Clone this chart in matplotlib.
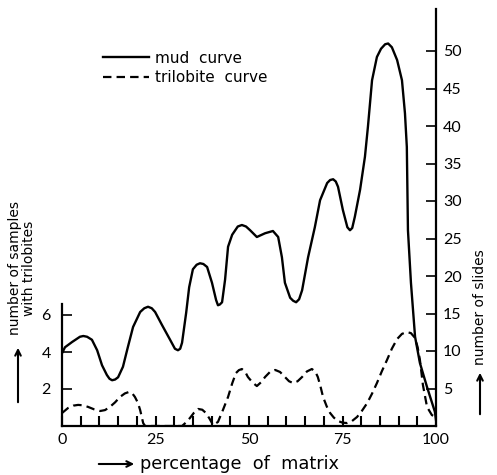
import numpy as np
import matplotlib
matplotlib.use("Agg")
from matplotlib import pyplot as plt

# mud curve (number of slides, right axis)
mud_x = [0, 0.8, 2.7, 4.8, 5.7, 6.7, 8.0, 9.4, 10.7, 12.0, 12.7, 13.4, 14.2, 15.0,
         16.3, 17.6, 19.0, 20.9, 22.0, 23.0, 24.0, 24.9, 26.7, 28.9, 30.2, 31.0,
         31.6, 32.1, 33.2, 34.0, 35.0, 36.0, 36.9, 37.8, 38.8, 40.1, 41.2, 41.7,
         42.2, 42.8, 43.6, 44.4, 45.5, 47.0, 48.1, 49.2, 50.3, 52.1, 54.3, 56.4,
         57.8, 58.8, 59.6, 61.0, 61.8, 62.6, 63.4, 64.2, 65.8, 67.6, 69.0, 70.9,
         71.7, 72.5, 73.2, 73.8, 75.1, 76.3, 77.0, 77.6, 78.3, 79.7, 81.0, 81.8,
         82.9, 84.2, 85.3, 86.4, 87.2, 88.2, 89.6, 90.9, 91.7, 92.2, 92.5, 93.3,
         94.4, 95.7, 97.6, 99.7, 100.0]
mud_y = [9.7, 10.5, 11.2, 11.9, 12.0, 11.9, 11.5, 10.1, 8.1, 6.8, 6.3, 6.1, 6.2, 6.5,
         7.9, 10.5, 13.2, 15.2, 15.7, 15.9, 15.7, 15.2, 13.5, 11.5, 10.3, 10.1,
         10.3, 11.1, 15.1, 18.5, 20.9, 21.5, 21.7, 21.6, 21.2, 19.1, 16.8, 16.1,
         16.2, 16.5, 19.5, 23.9, 25.5, 26.6, 26.8, 26.6, 26.1, 25.2, 25.7, 26.0,
         25.2, 22.5, 19.1, 17.1, 16.7, 16.5, 16.9, 18.1, 22.5, 26.5, 30.1, 32.4,
         32.8, 32.9, 32.6, 31.9, 28.8, 26.5, 26.1, 26.4, 27.9, 31.5, 35.9, 39.9,
         46.1, 49.2, 50.3, 50.9, 51.0, 50.5, 48.8, 46.1, 41.7, 37.2, 26.1, 19.1,
         11.9, 8.4, 5.2, 1.9, 0.8]

# trilobite curve (number of samples with trilobites, left axis)
tri_x = [0, 1.6, 3.0, 4.3, 5.6, 7.0, 8.6, 10.2, 11.5, 12.8, 14.2, 15.5, 16.8, 17.9,
         18.8, 19.5, 20.3, 20.9, 21.7, 22.2, 32.1, 33.2, 34.2, 35.3, 36.4, 37.5,
         38.5, 39.5, 40.4, 41.7, 43.0, 44.4, 45.5, 46.5, 47.3, 48.1, 49.0, 49.7,
         51.0, 52.1, 53.2, 54.3, 55.6, 57.0, 58.3, 59.6, 60.7, 61.8, 63.0, 64.2,
         65.5, 66.8, 67.7, 68.4, 69.1, 69.8, 70.8, 71.7, 72.7, 73.8, 75.0, 76.2,
         77.5, 78.9, 80.2, 81.6, 82.9, 84.2, 85.5, 86.9, 88.2, 89.6, 90.9, 92.2,
         93.3, 94.4, 95.1, 95.7, 96.5, 97.6, 98.9, 100.0]
tri_y = [0.70, 0.97, 1.10, 1.14, 1.12, 1.03, 0.90, 0.81, 0.86, 1.03, 1.28, 1.57,
         1.76, 1.84, 1.76, 1.57, 1.25, 0.86, 0.16, 0.0, 0.0, 0.20, 0.43, 0.72,
         0.92, 0.88, 0.70, 0.38, 0.05, 0.22, 0.85, 1.57, 2.30, 2.86, 3.02, 3.08,
         2.92, 2.65, 2.34, 2.16, 2.36, 2.65, 2.92, 3.03, 2.92, 2.65, 2.42, 2.32,
         2.42, 2.65, 2.95, 3.08, 2.95, 2.65, 2.15, 1.57, 1.05, 0.70, 0.45, 0.27,
         0.18, 0.16, 0.26, 0.49, 0.82, 1.24, 1.75, 2.32, 2.95, 3.57, 4.18, 4.70,
         4.98, 5.08, 5.02, 4.76, 4.25, 3.57, 2.22, 1.03, 0.59, 0.49]

x_ticks = [0, 25, 50, 75, 100]
left_ticks = [2, 4, 6]
right_ticks = [5, 10, 15, 20, 25, 30, 35, 40, 45, 50]

plt.rcParams['font.family'] = ['Lato', 'DejaVu Sans']
fig = plt.figure(figsize=(4.97, 4.75), dpi=100)
ax = fig.add_axes([62 / 497, 49 / 475, 374 / 497, 417 / 475])
ax2 = ax.twinx()

ax.set_xlim(0, 100)
ax.set_ylim(0, 417 / 18.5)
ax2.set_ylim(0, 417 / 7.5)

ax2.plot(mud_x, mud_y, color='black', lw=1.7, solid_joinstyle='round', label='mud  curve')
ax.plot(tri_x, tri_y, color='black', lw=1.6, ls=(0, (3.8, 2.3)), label='trilobite  curve')

for a in (ax, ax2):
    a.spines['top'].set_visible(False)
    for s in a.spines.values():
        s.set_linewidth(1.6)
ax.spines['right'].set_visible(False)
ax2.spines['left'].set_visible(False)
ax2.spines['bottom'].set_visible(False)
ax.spines['left'].set_bounds(0, 6.6)

ax.set_xticks(x_ticks)
ax.set_xticks(np.arange(0, 101, 5), minor=True)
ax.set_yticks(left_ticks)
ax2.set_yticks(right_ticks)
ax.tick_params(axis='x', which='both', direction='in', length=7, width=1.5,
               labelsize=11.5, pad=5)
ax.tick_params(axis='y', direction='in', length=7, width=1.2, labelsize=11.5, pad=8)
ax2.tick_params(axis='y', direction='in', length=7, width=1.2, labelsize=11.5, pad=5)

h1, l1 = ax2.get_legend_handles_labels()
h2, l2 = ax.get_legend_handles_labels()
ax2.legend(h1 + h2, l1 + l2, loc='upper left', bbox_to_anchor=(0.11, 0.9),
           frameon=False, handlelength=3.0, handletextpad=0.4,
           borderpad=0, borderaxespad=0, labelspacing=0.3,
           prop={'family': 'DejaVu Sans', 'size': 11})

lab = {'family': 'DejaVu Sans', 'size': 10}
fig.text(22, 207, 'number of samples\nwith trilobites', transform=None,
         rotation=90, ha='center', va='center', linespacing=1.0, fontdict=lab)
fig.text(480, 168, 'number of slides', transform=None,
         rotation=90, ha='center', va='center', fontdict=lab)
fig.text(140, 11, 'percentage  of  matrix', transform=None,
         ha='left', va='center', family='DejaVu Sans', size=12.8)

arrow = dict(arrowstyle='->', lw=1.5, color='black')
ax.annotate('', xy=(18, 130), xytext=(18, 70), xycoords='figure pixels', arrowprops=arrow)
ax.annotate('', xy=(480, 105), xytext=(480, 58), xycoords='figure pixels', arrowprops=arrow)
ax.annotate('', xy=(137, 11), xytext=(96, 11), xycoords='figure pixels', arrowprops=arrow)

fig.savefig('out.png', dpi=100)
